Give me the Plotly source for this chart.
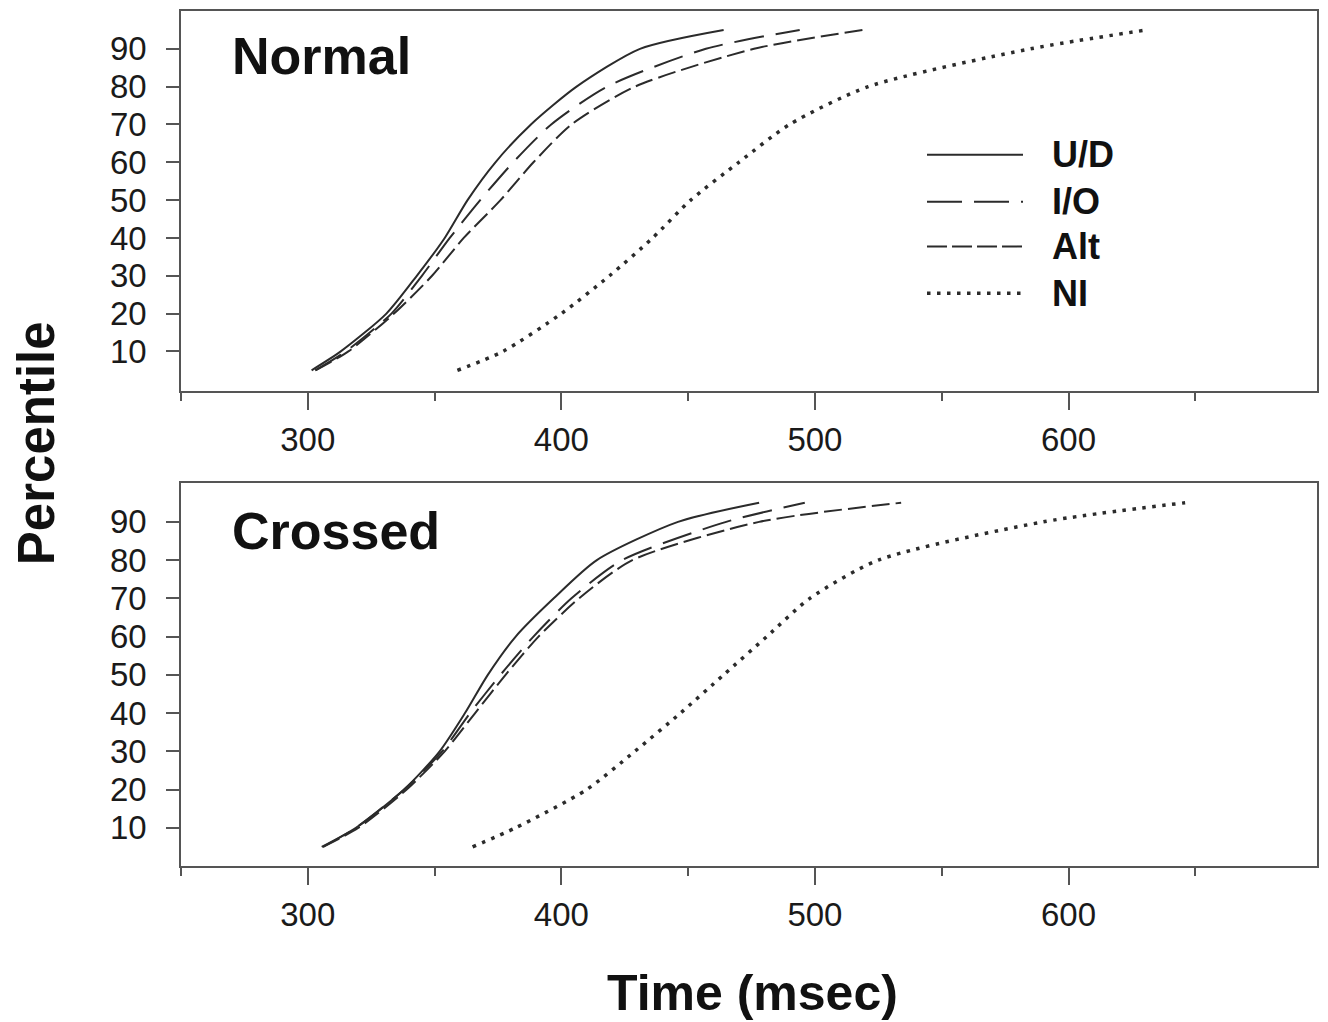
import plotly.graph_objects as go

# ---- data ----
percentiles = [5, 10, 20, 30, 40, 50, 60, 70, 80, 90, 95]

normal_ud = [301.5, 313, 331, 343, 354, 363, 374, 388, 406, 431, 464]
normal_io = [303, 315, 333, 345, 356, 368, 381, 396, 418, 457, 494]
normal_alt = [303, 316, 334, 349, 361.5, 376, 389, 404, 429, 476, 519]
normal_ni = [359, 377, 400, 419, 436, 451, 470, 490, 521, 585, 631]

crossed_ud = [305.5, 319, 338, 352, 362, 371, 382, 397, 414, 446, 478]
crossed_io = [306, 319, 338, 353, 364, 376, 389, 404, 424, 465, 496]
crossed_alt = [306, 320, 339, 354, 366, 378, 391, 407, 428, 478, 534]
crossed_ni = [365, 382, 410, 429, 447, 464, 481, 498, 525, 590, 646]

series_names = ["U/D", "I/O", "Alt", "NI"]
x_tick_vals = [300, 400, 500, 600]
x_minor_vals = [250, 350, 450, 550, 650]
y_tick_vals = [10, 20, 30, 40, 50, 60, 70, 80, 90]
panel_titles = ["Normal", "Crossed"]

# ---- styles ----
LINE_COLOR = "#2b2b2b"
styles = {
    "U/D": dict(color=LINE_COLOR, width=2, dash="solid"),
    "I/O": dict(color=LINE_COLOR, width=2, dash="30px,12px"),
    "Alt": dict(color=LINE_COLOR, width=2, dash="18px,6px"),
    "NI": dict(color=LINE_COLOR, width=3.5, dash="3.5px,6.5px"),
}
FONT = "Liberation Sans, Arial, Helvetica, sans-serif"

fig = go.Figure()

panels = [
    ("x", "y", [normal_ud, normal_io, normal_alt, normal_ni]),
    ("x2", "y2", [crossed_ud, crossed_io, crossed_alt, crossed_ni]),
]
for xa, ya, data in panels:
    for name, xs in zip(series_names, data):
        fig.add_trace(go.Scatter(
            x=xs, y=percentiles, mode="lines", name=name,
            line=dict(styles[name], shape="spline", smoothing=0.7),
            xaxis=xa, yaxis=ya, showlegend=False,
        ))

axis_common = dict(
    showline=True, linecolor="#555555", linewidth=1.5, mirror=True,
    showgrid=False, zeroline=False, ticks="outside",
    tickcolor="#555555", tickwidth=1.5,
    tickfont=dict(family=FONT, size=33, color="#1a1a1a"),
)
xaxis_cfg = dict(axis_common, range=[250, 698], tickvals=x_tick_vals,
                 ticklen=17, ticklabelstandoff=2,
                 minor=dict(tickvals=x_minor_vals, ticklen=8,
                            ticks="outside", tickcolor="#555555", tickwidth=1.5))
yaxis_cfg = dict(axis_common, tickvals=y_tick_vals, ticklen=13, ticklabelstandoff=13)

# page body has an 8px margin: size the figure so the plot lands where the reference has it
fig.update_layout(
    width=1320, height=1014,
    margin=dict(l=173, r=11, t=1, b=156),
    plot_bgcolor="white", paper_bgcolor="white",
    xaxis=dict(xaxis_cfg, anchor="y", domain=[0, 1]),
    yaxis=dict(yaxis_cfg, range=[-0.5, 100], domain=[0.5554, 1], anchor="x"),
    xaxis2=dict(xaxis_cfg, anchor="y2", domain=[0, 1]),
    yaxis2=dict(yaxis_cfg, range=[0, 100.2], domain=[0, 0.4481], anchor="x2"),
    showlegend=False,
)

annotations = []
# panel titles
for title, yp in zip(panel_titles, [0.9475, 0.392]):
    annotations.append(dict(text="<b>%s</b>" % title, x=0.0431, y=yp, xref="paper", yref="paper",
                            xanchor="left", yanchor="middle", showarrow=False,
                            font=dict(family=FONT, size=52, color="#111111")))
# axis titles
annotations.append(dict(text="<b>Percentile</b>", x=-0.1275, y=0.4947, xref="paper", yref="paper",
                        xanchor="center", yanchor="middle", textangle=-90, showarrow=False,
                        font=dict(family=FONT, size=51, color="#111111")))
annotations.append(dict(text="<b>Time (msec)</b>", x=0.5035, y=-0.148, xref="paper", yref="paper",
                        xanchor="center", yanchor="middle", showarrow=False,
                        font=dict(family=FONT, size=50, color="#111111")))

# legend (drawn inside the top panel)
legend_y = [0.832, 0.777, 0.7246, 0.6698]
legend_dash = {"U/D": "solid", "I/O": "35px,12px", "Alt": "20px,5px", "NI": "3.5px,6.5px"}
shapes = []
for name, ly in zip(series_names, legend_y):
    st = styles[name]
    shapes.append(dict(type="line", xref="paper", yref="paper", x0=0.6567, x1=0.7412, y0=ly, y1=ly,
                       line=dict(color=st["color"], width=st["width"], dash=legend_dash[name])))
    annotations.append(dict(text="<b>%s</b>" % name, x=0.765, y=ly, xref="paper", yref="paper",
                            xanchor="left", yanchor="middle", showarrow=False,
                            font=dict(family=FONT, size=36, color="#111111")))

fig.update_layout(annotations=annotations, shapes=shapes)
fig.write_html("out.html")
